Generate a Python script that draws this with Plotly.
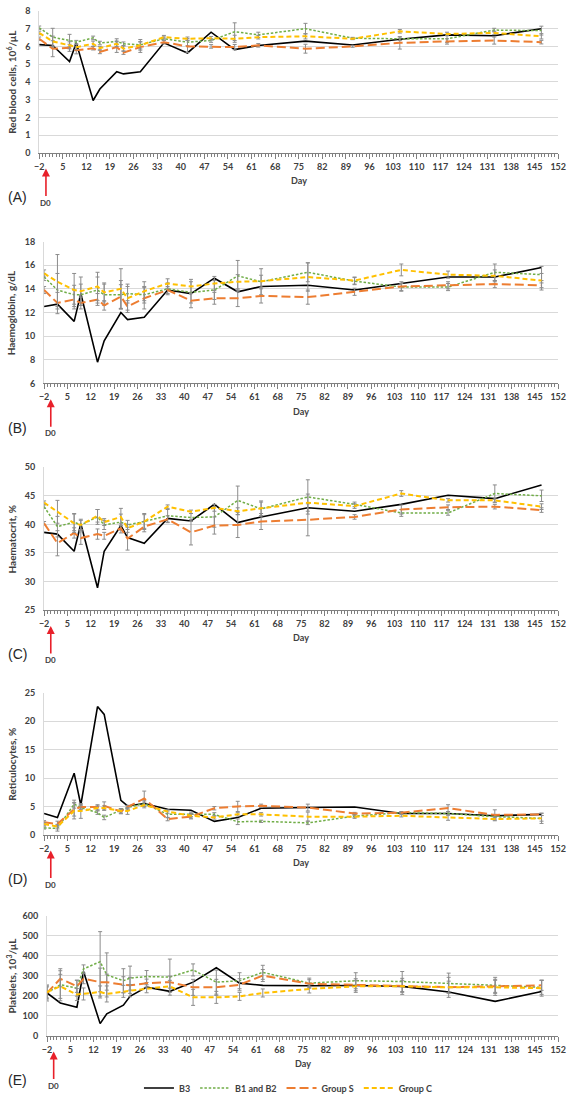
import plotly.graph_objects as go

# ---------------- data ----------------
days = [-2, 2, 7, 9, 14, 16, 21, 23, 28, 35, 42, 49, 56, 63, 77, 91, 105, 119, 133, 147]
series_names = ["B3", "B1 and B2", "Group S", "Group C"]

# (A) Red blood cells, 10^6/uL
rbc_b3 = [6.1, 6.05, 5.15, 6.2, 2.95, 3.6, 4.57, 4.45, 4.57, 6.2, 5.63, 6.8, 5.82, 6.05, 6.3, 6.08, 6.4, 6.65, 6.6, 7.0]
rbc_b12 = [7.05, 6.52, 6.33, 6.24, 6.48, 6.19, 6.28, 6.15, 6.09, 6.43, 6.24, 6.33, 6.83, 6.65, 7.0, 6.46, 6.43, 6.43, 6.92, 6.89]
rbc_s = [6.43, 5.87, 5.92, 5.78, 5.9, 5.69, 5.96, 5.65, 5.96, 6.24, 6.0, 6.0, 5.96, 6.06, 5.87, 6.0, 6.2, 6.28, 6.33, 6.24]
rbc_c = [6.76, 6.28, 6.06, 5.96, 6.15, 5.9, 6.15, 5.87, 6.06, 6.52, 6.43, 6.46, 6.43, 6.52, 6.57, 6.43, 6.85, 6.7, 6.76, 6.57]
rbc_b12_err = [0.1, 0.5, 0.35, 0.1, 0.1, 0.1, 0.15, 0.1, 0.3, 0.1, 0.2, 0.1, 0.5, 0.15, 0.3, 0.05, 0.1, 0.2, 0.1, 0.25]
rbc_s_err = [0.1, 0.45, 0.2, 0.2, 0.1, 0.1, 0.3, 0.1, 0.3, 0.1, 0.35, 0.1, 0.15, 0.1, 0.25, 0.05, 0.35, 0.15, 0.2, 0.1]
rbc_c_err = [0.1, 0.3, 0.2, 0.15, 0.15, 0.1, 0.15, 0.15, 0.2, 0.1, 0.1, 0.1, 0.2, 0.1, 0.15, 0.05, 0.1, 0.1, 0.1, 0.15]

# (B) Haemoglobin, g/dL
hb_b3 = [12.5, 12.7, 11.25, 13.6, 7.8, 9.6, 12.0, 11.4, 11.6, 13.9, 13.6, 14.9, 13.75, 14.2, 14.3, 13.9, 14.45, 15.0, 15.0, 15.8]
hb_b12 = [15.0, 13.9, 13.5, 13.5, 13.9, 13.5, 13.5, 13.6, 13.5, 14.0, 13.7, 13.9, 15.1, 14.6, 15.4, 14.65, 14.15, 14.15, 15.4, 15.2]
hb_s = [13.9, 12.8, 13.1, 12.8, 13.1, 12.6, 13.35, 12.5, 13.2, 13.9, 13.0, 13.2, 13.2, 13.4, 13.3, 13.75, 14.2, 14.3, 14.4, 14.3]
hb_c = [15.3, 14.6, 13.9, 13.8, 14.2, 13.7, 14.0, 13.2, 13.8, 14.45, 14.2, 14.45, 14.6, 14.65, 15.0, 14.7, 15.6, 15.2, 15.1, 14.7]
hb_b12_err = [0.3, 1.4, 0.8, 0.9, 1.1, 0.9, 1.2, 0.8, 0.7, 0.5, 0.9, 0.8, 1.3, 1.1, 0.8, 0.3, 0.3, 0.3, 0.7, 0.7]
hb_s_err = [0.3, 0.9, 0.8, 0.5, 0.5, 0.4, 1.0, 0.5, 0.9, 0.3, 0.6, 0.5, 0.7, 0.6, 0.6, 0.3, 0.4, 0.3, 0.3, 0.4]
hb_c_err = [0.3, 2.3, 1.4, 1.2, 1.2, 0.8, 1.7, 1.0, 0.8, 0.4, 0.6, 0.6, 0.6, 0.5, 1.2, 0.3, 0.5, 0.3, 0.5, 0.6]

# (C) Haematocrit, %
hct_b3 = [38.6, 38.3, 35.3, 40.1, 28.9, 35.3, 39.8, 37.7, 36.7, 41.05, 40.6, 43.5, 40.3, 41.3, 42.9, 42.3, 43.5, 45.1, 44.5, 46.9]
hct_b12 = [43.1, 39.6, 40.4, 39.9, 41.3, 39.9, 40.4, 39.9, 40.5, 41.5, 41.2, 41.3, 44.2, 42.7, 44.8, 43.5, 42.0, 42.0, 45.4, 45.0]
hct_s = [40.2, 36.7, 38.5, 37.6, 38.3, 38.0, 39.3, 37.5, 39.6, 40.9, 38.6, 39.8, 39.9, 40.5, 40.8, 41.3, 42.6, 43.0, 43.1, 42.5]
hct_c = [43.8, 42.2, 40.2, 39.9, 41.5, 40.4, 41.3, 39.3, 40.5, 43.1, 42.2, 42.9, 42.3, 42.8, 43.8, 43.2, 45.4, 44.2, 44.2, 43.1]
hct_b12_err = [0.3, 1.8, 1.5, 1.0, 1.3, 0.8, 1.4, 0.8, 1.2, 1.1, 0.7, 1.8, 2.5, 1.2, 3.0, 0.4, 0.6, 0.4, 1.5, 1.0]
hct_s_err = [0.3, 2.2, 0.9, 1.1, 0.9, 0.6, 0.8, 2.0, 0.9, 0.6, 2.2, 1.5, 2.2, 1.4, 2.8, 0.4, 0.8, 0.4, 0.4, 0.4]
hct_c_err = [0.3, 2.0, 1.6, 0.8, 1.1, 0.6, 1.5, 0.7, 1.4, 0.3, 0.3, 0.6, 0.6, 1.3, 1.5, 0.4, 0.5, 0.3, 0.4, 0.5]

# (D) Reticulocytes, %
ret_b3 = [3.75, 3.06, 10.85, 5.25, 22.6, 21.2, 6.06, 5.08, 5.5, 4.5, 4.33, 2.37, 3.06, 4.68, 4.8, 4.9, 3.75, 3.75, 3.35, 3.6]
ret_b12 = [1.2, 1.15, 5.4, 4.8, 3.9, 3.06, 4.33, 4.8, 5.5, 3.6, 3.6, 3.6, 2.3, 2.37, 2.1, 3.3, 3.9, 3.75, 3.2, 2.9]
ret_s = [2.2, 1.9, 4.5, 4.9, 4.9, 5.1, 4.1, 4.9, 6.4, 2.77, 3.2, 4.68, 5.0, 5.1, 4.8, 3.75, 3.9, 4.7, 3.5, 3.6]
ret_c = [1.9, 1.44, 4.2, 4.2, 4.7, 4.7, 4.2, 4.2, 5.25, 4.1, 3.35, 3.06, 3.6, 3.6, 3.2, 3.2, 3.35, 3.06, 2.77, 2.9]
ret_b12_err = [0.2, 0.5, 0.7, 0.4, 0.3, 0.4, 0.3, 0.3, 0.5, 0.6, 0.4, 0.3, 0.5, 0.2, 0.3, 0.2, 0.2, 0.3, 0.4, 0.5]
ret_s_err = [0.3, 0.5, 1.2, 0.4, 0.4, 0.7, 0.4, 0.3, 1.3, 0.3, 0.4, 0.3, 0.9, 0.3, 0.6, 0.2, 0.1, 0.6, 0.9, 0.2]
ret_c_err = [0.3, 0.4, 1.4, 1.3, 0.4, 0.4, 0.4, 0.6, 0.5, 0.3, 0.4, 0.3, 0.3, 0.3, 0.8, 0.3, 0.2, 0.5, 0.3, 0.9]

# (E) Platelets, 10^3/uL
plt_b3 = [214, 164, 143, 321, 61, 110, 153, 197, 243, 222, 268, 340, 263, 252, 250, 251, 247, 219, 172, 221]
plt_b12 = [214, 255, 238, 334, 370, 304, 275, 288, 296, 293, 329, 268, 275, 317, 263, 275, 271, 263, 252, 242]
plt_s = [214, 285, 247, 285, 268, 268, 255, 252, 263, 268, 242, 242, 255, 301, 260, 255, 247, 243, 247, 252]
plt_c = [219, 247, 206, 209, 219, 209, 222, 225, 235, 247, 192, 192, 197, 214, 234, 247, 247, 242, 242, 238]
plt_b12_err = [40, 80, 40, 20, 150, 110, 60, 60, 30, 90, 30, 60, 40, 35, 25, 40, 50, 50, 40, 35]
plt_s_err = [30, 40, 30, 25, 70, 40, 40, 40, 20, 30, 40, 40, 30, 30, 20, 30, 30, 30, 30, 25]
plt_c_err = [30, 60, 30, 30, 30, 40, 30, 30, 20, 30, 40, 30, 20, 20, 20, 30, 40, 50, 40, 40]

y_titles = ["Red blood cells, 10<sup>6</sup>/μL", "Haemoglobin, g/dL", "Haematocrit, %",
            "Reticulocytes, %", "Platelets, 10<sup>3</sup>/μL"]
panel_letters = ["(A)", "(B)", "(C)", "(D)", "(E)"]
y_ranges = [[0, 8], [6, 18], [25, 50], [0, 25], [0, 600]]
y_dticks = [1, 2, 5, 5, 100]

# ---------------- layout helpers ----------------
W, H = 576, 1103
def X(px):
    return px / W
def Y(py):
    return 1 - py / H

# pixel boxes of plot areas (left, top, bottom), right edge 566 for all
boxes = [(35, 5, 149), (40, 239, 383), (40, 468, 613), (40, 697, 841), (43, 923, 1045)]
RIGHT = 566

colors = ["#000000", "#70AD47", "#ED7D31", "#FFC000"]
dashes = ["solid", "2.5px,1.8px", "9px,4px", "5px,3px"]
widths = [1.6, 1.5, 2.0, 2.0]

data_sets = [
    (rbc_b3, rbc_b12, rbc_s, rbc_c, rbc_b12_err, rbc_s_err, rbc_c_err),
    (hb_b3, hb_b12, hb_s, hb_c, hb_b12_err, hb_s_err, hb_c_err),
    (hct_b3, hct_b12, hct_s, hct_c, hct_b12_err, hct_s_err, hct_c_err),
    (ret_b3, ret_b12, ret_s, ret_c, ret_b12_err, ret_s_err, ret_c_err),
    (plt_b3, plt_b12, plt_s, plt_c, plt_b12_err, plt_s_err, plt_c_err),
]

FONT = "Lato"
TXT = "#404040"
ERR = "#8C8C8C"

fig = go.Figure()
annotations = []
layout = {}

for i, (ds, box) in enumerate(zip(data_sets, boxes)):
    n = i + 1
    xa = "x" if n == 1 else f"x{n}"
    ya = "y" if n == 1 else f"y{n}"
    b3, b12, s, c, e12, es, ec = ds
    vals = [b3, b12, s, c]
    errs = [None, e12, es, ec]
    for k in range(4):
        tr = dict(
            x=days, y=vals[k], mode="lines", name=series_names[k],
            line=dict(color=colors[k], width=widths[k], dash=dashes[k]),
            xaxis=xa, yaxis=ya, showlegend=(n == 1), legendgroup=series_names[k],
        )
        if errs[k] is not None:
            tr["error_y"] = dict(type="data", array=errs[k], visible=True,
                                 color=ERR, thickness=1, width=2)
        fig.add_trace(go.Scatter(**tr))

    left, top, bottom = box
    xkey = "xaxis" if n == 1 else f"xaxis{n}"
    ykey = "yaxis" if n == 1 else f"yaxis{n}"
    layout[xkey] = dict(
        domain=[X(left), X(RIGHT)], anchor=ya, range=[-2, 152],
        tickmode="linear", tick0=-2, dtick=7,
        ticks="outside", ticklen=5, tickcolor="#808080", tickwidth=1,
        showline=True, linecolor="#808080", linewidth=1,
        showgrid=False, zeroline=False,
        minor=dict(tickmode="linear", tick0=-2, dtick=1, ticks="outside",
                   ticklen=3, tickcolor="#808080", showgrid=False),
        tickfont=dict(family=FONT, size=9, color=TXT, weight="bold"),
        fixedrange=True,
    )
    layout[ykey] = dict(
        domain=[Y(bottom), Y(top)], anchor=xa, range=y_ranges[i],
        tickmode="linear", tick0=y_ranges[i][0], dtick=y_dticks[i],
        showgrid=True, gridcolor="#D9D9D9", gridwidth=1,
        showline=True, linecolor="#D9D9D9", linewidth=1,
        zeroline=False, ticks="", ticklabelstandoff=6,
        tickfont=dict(family=FONT, size=9, color=TXT, weight="bold"),
        fixedrange=True,
    )
    # y title
    annotations.append(dict(
        text=y_titles[i], x=X(7), y=Y((top + bottom) / 2), xref="paper", yref="paper",
        textangle=-90, showarrow=False, xanchor="center", yanchor="middle",
        font=dict(family=FONT, size=10, color=TXT, weight="bold")))
    # Day
    annotations.append(dict(
        text="Day", x=X((left + RIGHT) / 2), y=Y(bottom + 28), xref="paper", yref="paper",
        showarrow=False, xanchor="center", yanchor="middle",
        font=dict(family=FONT, size=9, color=TXT, weight="bold")))
    # panel letter
    annotations.append(dict(
        text=panel_letters[i], x=X(1), y=Y(bottom + 45), xref="paper", yref="paper",
        showarrow=False, xanchor="left", yanchor="middle",
        font=dict(family="Liberation Sans", size=14, color="#262626")))
    # D0 label with red arrow pointing up to the axis
    annotations.append(dict(
        text="D0", x=0, y=Y(bottom + 16), xref=xa, yref="paper",
        showarrow=True, arrowhead=2, arrowsize=1, arrowwidth=1.6, arrowcolor="#E8202A",
        ax=0, ay=34, standoff=0, startstandoff=0,
        font=dict(family=FONT, size=8, color=TXT, weight="bold")))

fig.update_layout(
    width=W, height=H, margin=dict(l=0, r=0, t=0, b=0),
    paper_bgcolor="white", plot_bgcolor="white",
    annotations=annotations,
    legend=dict(orientation="h", x=X(290), xanchor="center", y=Y(1098), yanchor="middle",
                font=dict(family=FONT, size=9, color=TXT, weight="bold"),
                itemwidth=30, tracegroupgap=0, bgcolor="rgba(0,0,0,0)"),
    **layout,
)

fig.write_html("out.html", config={"displayModeBar": False},
               post_script="document.body.style.margin='0';document.body.style.overflow='hidden';")
